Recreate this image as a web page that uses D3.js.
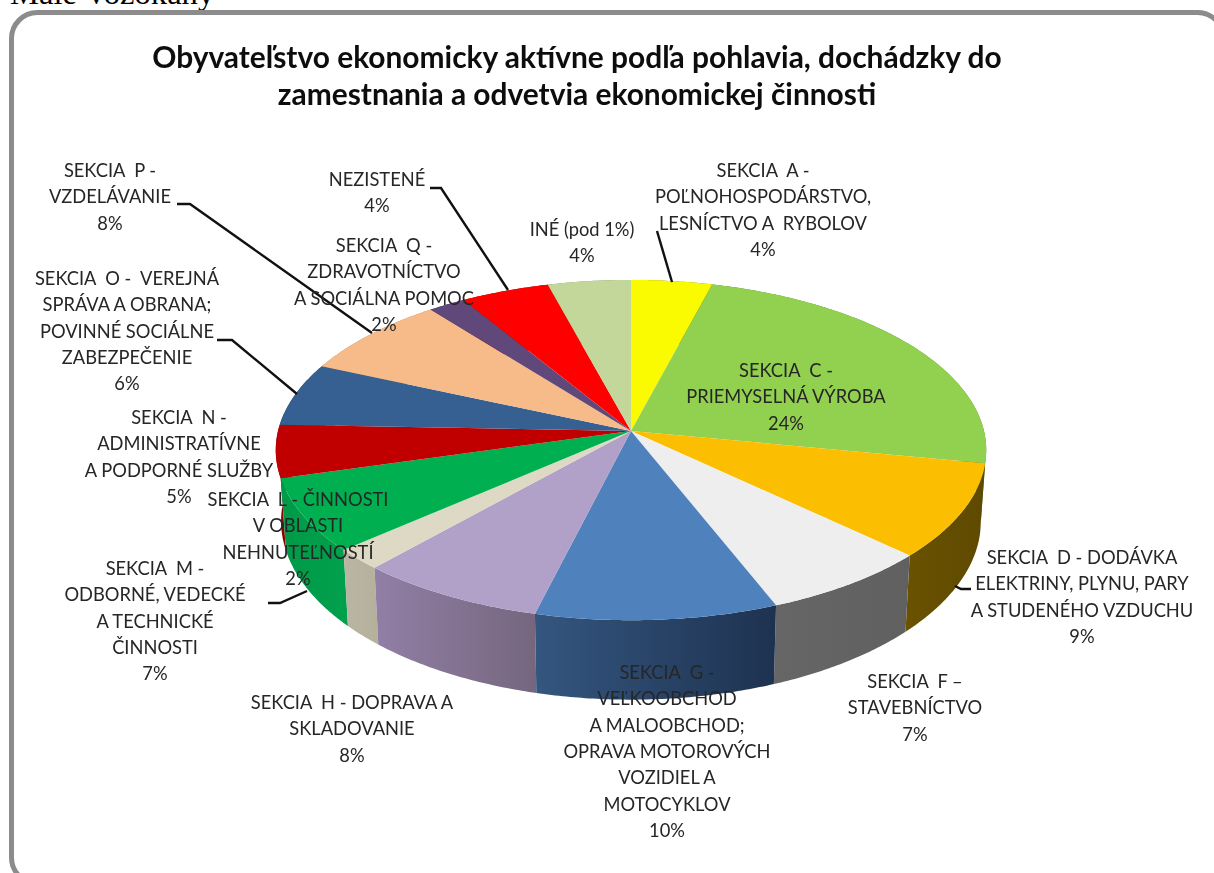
<!DOCTYPE html>
<html lang="sk">
<head>
<meta charset="utf-8">
<script src="https://cdn.jsdelivr.net/npm/d3@7/dist/d3.min.js"></script>
<style>
html,body{margin:0;padding:0;background:#fff;overflow:hidden}
svg{display:block}
</style>
</head>
<body>
<svg id="c" width="1214" height="873"></svg>
<script>
// ---- data ----
const pageCaption = "Malé Vozokany";
const titleLines = ["Obyvateľstvo ekonomicky aktívne podľa pohlavia, dochádzky do",
                    "zamestnania a odvetvia ekonomickej činnosti"];
const categories = ["A","C","D","F","G","H","L","M","N","O","P","Q","NEZ","INE"];
const values = [4.1,23.9,9.0,7.0,9.9,7.7,2.0,7.0,5.0,6.0,7.8,1.9,4.5,4.2];
const labelLines = [
  ["SEKCIA  A -","POĽNOHOSPODÁRSTVO,","LESNÍCTVO A  RYBOLOV","4%"],
  ["SEKCIA  C -","PRIEMYSELNÁ VÝROBA","24%"],
  ["SEKCIA  D - DODÁVKA","ELEKTRINY, PLYNU, PARY","A STUDENÉHO VZDUCHU","9%"],
  ["SEKCIA  F –","STAVEBNÍCTVO","7%"],
  ["SEKCIA  G -","VEĽKOOBCHOD","A MALOOBCHOD;","OPRAVA MOTOROVÝCH","VOZIDIEL A","MOTOCYKLOV","10%"],
  ["SEKCIA  H - DOPRAVA A","SKLADOVANIE","8%"],
  ["SEKCIA  L - ČINNOSTI","V OBLASTI","NEHNUTEĽNOSTÍ","2%"],
  ["SEKCIA  M -","ODBORNÉ, VEDECKÉ","A TECHNICKÉ","ČINNOSTI","7%"],
  ["SEKCIA  N -","ADMINISTRATÍVNE","A PODPORNÉ SLUŽBY","5%"],
  ["SEKCIA  O -  VEREJNÁ","SPRÁVA A OBRANA;","POVINNÉ SOCIÁLNE","ZABEZPEČENIE","6%"],
  ["SEKCIA  P -","VZDELÁVANIE","8%"],
  ["SEKCIA  Q -","ZDRAVOTNÍCTVO","A SOCIÁLNA POMOC","2%"],
  ["NEZISTENÉ","4%"],
  ["INÉ (pod 1%)","4%"]
];
const topColors = ["#FAFA00","#92D050","#FBBE00","#EEEEEE","#4F81BD","#B1A0C7","#DDD9C4","#00B050","#C00000","#366092","#F7BB8A","#60497A","#FF0000","#C4D79B"];
const wallLeft  = ["#8a8a00","#5a8030","#6a5200","#666666","#34567F","#927FA6","#BAB6A3","#009A48","#8C0000","#24416A","#A87C58","#3C2D4D","#A00000","#7F8C62"];
const wallRight = ["#8a8a00","#5a8030","#5E4900","#606060","#1E3250","#75667E","#B4B09C","#00A04C","#8C0000","#24416A","#A87C58","#3C2D4D","#A00000","#7F8C62"];

// ---- layout ----
const W = 1214, H = 873;
const labelPos = [[763,177],[786,377],[1082,564],[915,688],[667,679],[352,709],[298,506],[155,575],[179,424],[127,285],[110,177],[384,252],[377,186],[582,236]];
const leaders = [
  [[657,231],[672,282]],
  [[971,589],[961,589],[955,586]],
  [[268,603],[280,603],[307,591]],
  [[217,340],[232,340],[297,394]],
  [[177,204],[190,204],[372,333]],
  [[430,188],[441,188],[508,290]]
];
const cx = 631, cy = 431, rx = 353, ry = 168, persp = 0.112;
const wallDrop = 70, wallX = 0.985, wallY = 1.05;
const labelFont = 18.3, lineStep = 26.3;

const svg = d3.select("#c");
const defs = svg.append("defs");
const blur = defs.append("filter").attr("id","soft").attr("x","-5%").attr("y","-5%").attr("width","110%").attr("height","110%");
blur.append("feGaussianBlur").attr("stdDeviation",0.4);

// page caption
svg.append("text").attr("x",10).attr("y",4).attr("font-family","Liberation Serif")
  .attr("font-size",32.6).attr("fill","#000").text(pageCaption);

// frame
svg.append("rect").attr("x",11.5).attr("y",12.5).attr("width",1212).attr("height",871).attr("rx",26)
  .attr("fill","#fff").attr("stroke","#8C8C8C").attr("stroke-width",5);

// title
svg.append("g").attr("filter","url(#soft)").selectAll("text").data(titleLines).join("text")
  .attr("x",577).attr("y",(d,i)=>68+i*36.5)
  .attr("text-anchor","middle").attr("font-family","Lato").attr("font-weight",700)
  .attr("font-size",29.9).attr("fill","#0d0d0d").text(d=>d);

// pie geometry through d3.pie and a perspective tilt
const pie = d3.pie().sort(null).value(d=>d.value).startAngle(0).endAngle(2*Math.PI);
const slices = pie(categories.map((c,i)=>({cat:c,value:values[i],i})));
const proj = a => {
  const u = Math.sin(a), v = -Math.cos(a), k = 1 - persp*v;
  return [u*rx/k, v*ry/k];
};
const topPt = a => { const p = proj(a); return [cx+p[0], cy+p[1]]; };
const botPt = a => { const p = proj(a); return [cx+p[0]*wallX, cy+wallDrop+p[1]*wallY]; };
const line = d3.line();
const samples = d => {
  const n = Math.max(6, Math.ceil((d.endAngle-d.startAngle)/0.01));
  return d3.range(n+1).map(j=>d.startAngle+(d.endAngle-d.startAngle)*j/n);
};

// wall gradients
slices.forEach(d=>{
  const g = defs.append("linearGradient").attr("id","w"+d.data.cat);
  g.append("stop").attr("offset",0).attr("stop-color",wallLeft[d.data.i]);
  g.append("stop").attr("offset",1).attr("stop-color",wallRight[d.data.i]);
});

// walls, back to front
const mid = d => (d.startAngle+d.endAngle)/2;
const order = slices.slice().sort((a,b)=>(-Math.cos(mid(a)))-(-Math.cos(mid(b))));
svg.append("g").selectAll("path").data(order).join("path")
  .attr("d",d=>{const s=samples(d);return line(s.map(topPt).concat(s.slice().reverse().map(botPt)))+"Z";})
  .attr("fill",d=>`url(#w${d.data.cat})`);

// top faces
svg.append("g").selectAll("path").data(slices).join("path")
  .attr("d",d=>line([[cx,cy]].concat(samples(d).map(topPt)))+"Z")
  .attr("fill",d=>topColors[d.data.i]);

// leaders
svg.append("g").selectAll("path").data(leaders).join("path")
  .attr("d",d=>line(d)).attr("fill","none").attr("stroke","#111").attr("stroke-width",2.4);

// labels
const lab = svg.append("g").attr("filter","url(#soft)").attr("font-family","Lato").attr("font-size",labelFont).attr("fill","#262626").attr("text-anchor","middle");
labelLines.forEach((lines,i)=>{
  lab.append("g").selectAll("text").data(lines).join("text")
    .attr("x",labelPos[i][0]).attr("y",(d,j)=>labelPos[i][1]+j*lineStep)
    .style("white-space","pre").text(d=>d);
});
</script>
</body>
</html>
